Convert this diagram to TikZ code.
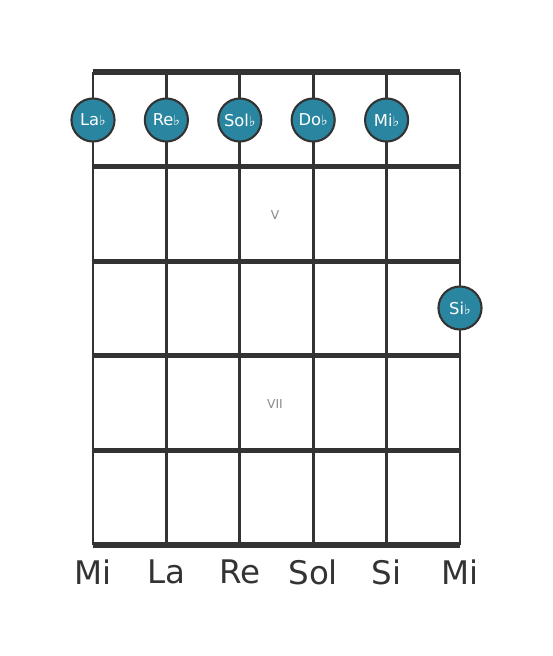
\documentclass[tikz,border=0pt]{standalone}
\usepackage{fontspec}
\setmainfont{DejaVu Sans}
\usetikzlibrary{positioning}
\definecolor{grille}{HTML}{333333}
\definecolor{pastille}{HTML}{2A86A0}
\definecolor{repere}{HTML}{8A8A8A}
\tikzset{
  corde/.style={line width=1.7pt, draw=grille},
  frette/.style={line width=2.9pt, draw=grille},
  note/.style={circle, minimum size=24.5pt, inner sep=0pt, fill=pastille,
    draw=grille, line width=1.2pt, text=white, font=\fontsize{9.3}{10}\selectfont},
  nomcorde/.style={text=grille, font=\fontsize{18.5}{20}\selectfont},
  case/.style={text=repere, font=\fontsize{7}{8}\selectfont}
}
\newcommand{\bem}{{\fontsize{8}{9}\selectfont\itshape ♭}}
\begin{document}
\begin{tikzpicture}[x=0.02cm, y=-0.02cm]
\useasboundingbox (0,0) rectangle (553,656);

% cordes
\foreach \i/\x in {0/93,1/166.4,2/239.8,3/313.2,4/386.6,5/460}
  {
   \coordinate (h\i) at (\x,72);
   \coordinate (b\i) at (\x,545);
   \draw[corde] (h\i) -- (b\i);
  };

% frettes
\foreach \j/\y in {0/72,1/166.6,2/261.2,3/355.8,4/450.4,5/545}
  {
   \coordinate (g\j) at (93,\y);
   \coordinate (d\j) at (460,\y);
   \draw[frette] (g\j) -- (d\j);
  };

% reperes de case
\node[case] (v) at (275,215) {V};
\node[case] (vii) at (275,404) {VII};

% notes
\node[note] (lab) at (93,120) {La\bem};
\node[note] (reb) at (166.4,120) {Re\bem};
\node[note] (solb) at (239.8,120) {Sol\bem};
\node[note] (dob) at (313.2,120) {Do\bem};
\node[note] (mib) at (386.6,120) {Mi\bem};
\node[note] (sib) at (460,308) {Si\bem};

% noms des cordes
\foreach \i/\n in {0/Mi,1/La,2/Re,3/Sol,4/Si,5/Mi}
  {
   \node[nomcorde, below=5pt of b\i] (n\i) {\n};
  };
\end{tikzpicture}
\end{document}
